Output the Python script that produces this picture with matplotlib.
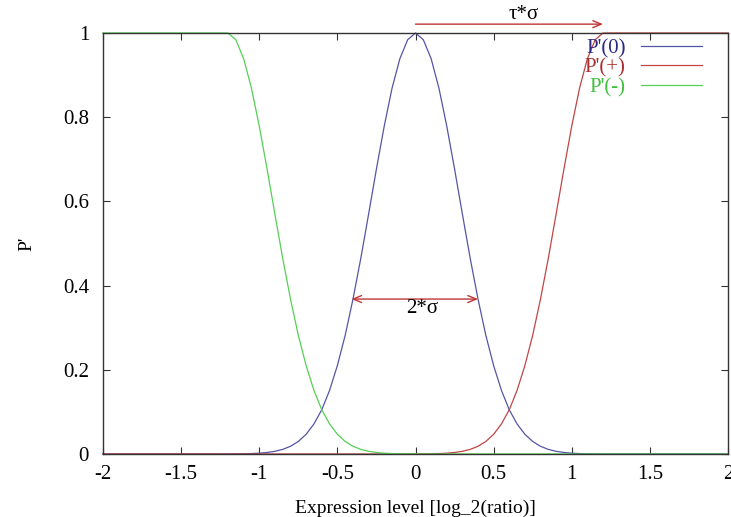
import numpy as np
import matplotlib
matplotlib.use("Agg")
import matplotlib.pyplot as plt
from matplotlib.ticker import FormatStrFormatter, MultipleLocator

# sample positions on the expression axis (step 0.05 from -2 to 2)
expr_level = np.round(np.linspace(-2, 2, 81), 2)

# values
tail = [0.0001, 0.0003, 0.0005, 0.0010, 0.0019, 0.0036, 0.0063, 0.0109,
        0.0183, 0.0297, 0.0468, 0.0713, 0.105, 0.151, 0.210, 0.282,
        0.368, 0.465, 0.570, 0.677, 0.779, 0.869, 0.939, 0.984]

p_zero = [0.0] * 16 + tail + [1.0] + tail[::-1] + [0.0] * 16
p_plus = [0.0] * 40 + tail + [1.0] * 17
p_minus = [1.0] * 17 + tail[::-1] + [0.0] * 40

labels = ["P'(0)", "P'(+)", "P'(-)"]
line_colors = ["#5555a5", "#c04545", "#55d055"]
text_colors = ["#2a2a85", "#a83030", "#40c040"]
arrow_color = "#c03535"

plt.rcParams["font.family"] = ["Liberation Serif", "DejaVu Serif"]

fig = plt.figure(figsize=(7.31, 5.17), dpi=100)
ax = fig.add_axes([0.1409, 0.1219, 0.855, 0.8143])

for ys, lab, col in zip([p_zero, p_plus, p_minus], labels, line_colors):
    ax.plot(expr_level, ys, color=col, lw=0.9, label=lab, clip_on=False)

ax.set_xlim(-2, 2)
ax.set_ylim(0, 1)
ax.xaxis.set_major_locator(MultipleLocator(0.5))
ax.yaxis.set_major_locator(MultipleLocator(0.2))
ax.xaxis.set_major_formatter(FormatStrFormatter("%g"))
ax.yaxis.set_major_formatter(FormatStrFormatter("%g"))
ax.tick_params(direction="in", top=True, right=True, length=5, width=0.8,
               labelsize=15, color="#333333")
ax.tick_params(axis="y", pad=10)
ax.tick_params(axis="x", pad=8)
for s in ax.spines.values():
    s.set_color("#333333")
    s.set_linewidth(1.0)

ax.set_xlabel("Expression level [log_2(ratio)]", fontsize=14, labelpad=11)
ax.set_ylabel("P'", fontsize=14, labelpad=20)

# width arrow 2*sigma
ax.annotate("", xy=(0.40, 0.368), xytext=(-0.41, 0.368),
            arrowprops=dict(arrowstyle="<->,head_length=0.6,head_width=0.25",
                            color=arrow_color, lw=1, shrinkA=0, shrinkB=0))
ax.text(0.04, 0.345, "2*σ", ha="center", va="center", fontsize=15)

# threshold arrow tau*sigma above the frame
ax.annotate("", xy=(1.2, 1.021), xytext=(0, 1.021), annotation_clip=False,
            arrowprops=dict(arrowstyle="->,head_length=0.6,head_width=0.25",
                            color=arrow_color, lw=1, shrinkA=0, shrinkB=0))
ax.text(0.69, 1.045, "τ*σ", ha="center", va="center", fontsize=15,
        clip_on=False)

leg = ax.legend(loc="upper right", bbox_to_anchor=(0.958, 0.987),
                frameon=False, markerfirst=False, fontsize=15,
                handlelength=2.9, handletextpad=0.75, labelspacing=0.0,
                borderpad=0, borderaxespad=0)
for t, c in zip(leg.get_texts(), text_colors):
    t.set_color(c)

fig.savefig("out.png", dpi=100)
